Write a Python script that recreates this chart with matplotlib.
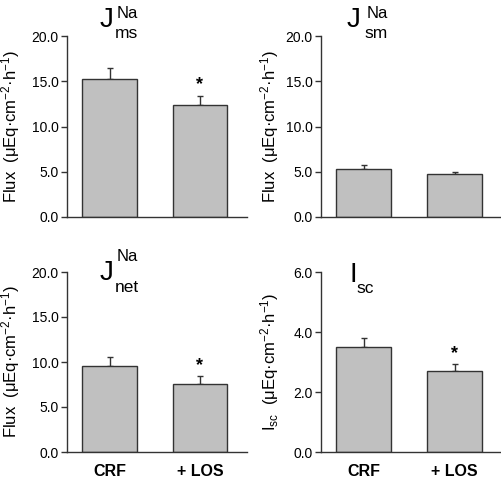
"""Na flux and Isc bar panels, CRF vs +LOS"""
import numpy as np
import matplotlib
matplotlib.use('Agg')
import matplotlib.pyplot as plt
from matplotlib.ticker import FormatStrFormatter

plt.rcParams['font.family'] = ['Liberation Sans', 'DejaVu Sans']
plt.rcParams['mathtext.default'] = 'regular'

groups = ['CRF', '+ LOS']

jms_mean = [15.2, 12.4]
jms_sem = [1.3, 1.0]
jsm_mean = [5.3, 4.7]
jsm_sem = [0.4, 0.3]
jnet_mean = [9.6, 7.6]
jnet_sem = [1.0, 0.8]
isc_mean = [3.5, 2.7]
isc_sem = [0.3, 0.22]

# which bars get a significance star
jms_sig = [False, True]
jsm_sig = [False, False]
jnet_sig = [False, True]
isc_sig = [False, True]

flux_ticks = [0.0, 5.0, 10.0, 15.0, 20.0]
isc_ticks = [0.0, 2.0, 4.0, 6.0]

unit = r'($\mu$Eq·cm$^{-2}$·h$^{-1}$)'

W, H = 502, 478
fig = plt.figure(figsize=(W / 100, H / 100), dpi=100)

edge = '#333333'
face = '#c0c0c0'


def panel(rect, means, sems, sig, ticks, ylabel, label_x, title, show_x):
    ax = fig.add_axes(rect)
    x = np.arange(len(means))
    ax.bar(x, means, width=0.6, color=face, edgecolor=edge, linewidth=1.0,
           zorder=2)
    ax.errorbar(x, means, yerr=[np.zeros(len(sems)), sems], fmt='none',
                ecolor=edge, elinewidth=1.0, capsize=2.5, capthick=1.0,
                zorder=1)
    top = ticks[-1]
    for xi, m, s, flag in zip(x, means, sems, sig):
        if flag:
            ax.text(xi, m + s + top * 0.015, '*', ha='center', va='bottom',
                    fontsize=13, fontweight='bold')
    ax.set_xlim(-0.47, 1.52)
    ax.set_ylim(0, top)
    ax.set_yticks(ticks)
    ax.yaxis.set_major_formatter(FormatStrFormatter('%.1f'))
    for side in ('top', 'right'):
        ax.spines[side].set_visible(False)
    for side in ('left', 'bottom'):
        ax.spines[side].set_color(edge)
        ax.spines[side].set_linewidth(1.0)
    ax.tick_params(axis='y', direction='out', length=4, width=1.0,
                   color=edge, labelsize=10, pad=2)
    ax.tick_params(axis='x', length=0, pad=9)
    if show_x:
        ax.set_xticks(x)
        ax.set_xticklabels(groups, fontsize=11.5, fontweight='bold')
    else:
        ax.set_xticks([])
    ax.set_ylabel(ylabel, fontsize=12)
    ax.yaxis.set_label_coords(label_x, 0.5)
    for txt, tx, ty, size in title:
        ax.text(tx, ty, txt, transform=ax.transAxes, fontsize=size,
                va='baseline', ha='left', clip_on=False)
    return ax


left_l, left_w = 67 / W, 180 / W
right_l, right_w = 321 / W, 181 / W
top_b, top_h = 1 - 217 / H, 181 / H
bot_b, bot_h = 1 - 452 / H, 180 / H

panel([left_l, top_b, left_w, top_h], jms_mean, jms_sem, jms_sig,
      flux_ticks, 'Flux  ' + unit, -0.25,
      [('J', 0.183, 1.05, 20), ('Na', 0.278, 1.1, 12),
       ('ms', 0.267, 0.99, 12.5)], False)
panel([right_l, top_b, right_w, top_h], jsm_mean, jsm_sem, jsm_sig,
      flux_ticks, 'Flux  ' + unit, -0.22,
      [('J', 0.144, 1.05, 20), ('Na', 0.254, 1.1, 12),
       ('sm', 0.243, 0.99, 12.5)], False)
panel([left_l, bot_b, left_w, bot_h], jnet_mean, jnet_sem, jnet_sig,
      flux_ticks, 'Flux  ' + unit, -0.25,
      [('J', 0.183, 0.955, 20), ('Na', 0.278, 1.06, 12),
       ('net', 0.267, 0.89, 12.5)], True)
panel([right_l, bot_b, right_w, bot_h], isc_mean, isc_sem, isc_sig,
      isc_ticks, r'I$_{sc}$  ' + unit, -0.22,
      [('I', 0.16, 0.944, 20), ('sc', 0.196, 0.883, 12.5)], True)

fig.savefig('out.png', dpi=100)
